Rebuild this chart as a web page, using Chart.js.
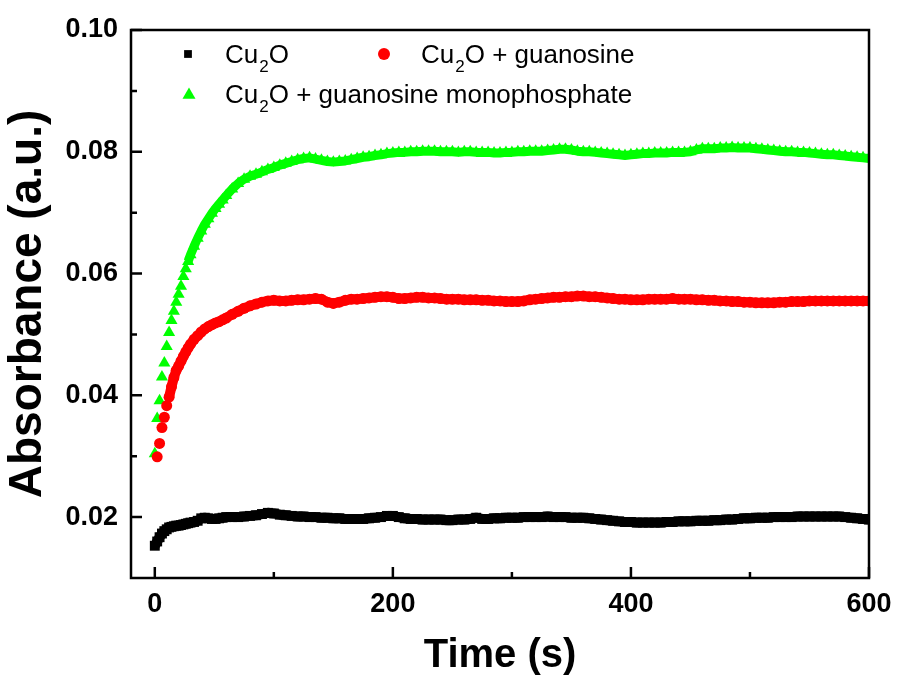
<!DOCTYPE html>
<html>
<head>
<meta charset="utf-8">
<script src="https://cdn.jsdelivr.net/npm/chart.js@4.4.1/dist/chart.umd.min.js"></script>
<style>
  html, body { margin: 0; padding: 0; background: #fff; }
  #wrap { width: 898px; height: 680px; }
</style>
</head>
<body>
<div id="wrap"><canvas id="c" width="898" height="680"></canvas></div>
<script>
// ---------------- data ----------------
const seriesLabels = ['Cu₂O', 'Cu₂O + guanosine', 'Cu₂O + guanosine monophosphate'];
const xTitle = 'Time (s)';
const yTitle = 'Absorbance (a.u.)';
const xTickValues = [0, 200, 400, 600];
const xMinorTicks = [100, 300, 500];
const yTickValues = [0.02, 0.04, 0.06, 0.08, 0.10];
const yMinorTicks = [0.03, 0.05, 0.07, 0.09];

const time = [
  0, 2, 4, 6, 8, 10, 12, 14, 16, 18,
  20, 22, 24, 26, 28, 30, 33, 36, 39, 42,
  45, 48, 51, 54, 57, 60, 65, 70, 75, 80,
  85, 90, 95, 100, 105, 110, 115, 120, 125, 130,
  135, 140, 145, 150, 155, 160, 165, 170, 175, 180,
  185, 190, 195, 200, 205, 210, 215, 220, 225, 230,
  235, 240, 245, 250, 255, 260, 265, 270, 275, 280,
  285, 290, 295, 300, 305, 310, 315, 320, 325, 330,
  335, 340, 345, 350, 355, 360, 365, 370, 375, 380,
  385, 390, 395, 400, 405, 410, 415, 420, 425, 430,
  435, 440, 445, 450, 455, 460, 465, 470, 475, 480,
  485, 490, 495, 500, 505, 510, 515, 520, 525, 530,
  535, 540, 545, 550, 555, 560, 565, 570, 575, 580,
  585, 590, 595, 600
];

const cu2o = [
  .0153, .0160, .0167, .0173, .0177, .0180, .0183, .0184, .0185, .0186,
  .0186, .0187, .0188, .0189, .0190, .0191, .0192, .0194, .0198, .0199,
  .0198, .0197, .0197, .0198, .0199, .0200, .0200, .0200, .0201, .0202,
  .0203, .0205, .0207, .0206, .0204, .0203, .0202, .0201, .0201, .0200,
  .0200, .0199, .0199, .0198, .0198, .0197, .0197, .0197, .0197, .0198,
  .0199, .0200, .0202, .0202, .0200, .0198, .0197, .0197, .0196, .0196,
  .0196, .0196, .0195, .0195, .0196, .0196, .0197, .0199, .0197, .0197,
  .0198, .0198, .0199, .0199, .0199, .0200, .0200, .0200, .0200, .0201,
  .0200, .0200, .0200, .0199, .0199, .0199, .0198, .0197, .0196, .0195,
  .0194, .0193, .0192, .0192, .0191, .0191, .0191, .0191, .0191, .0192,
  .0192, .0193, .0193, .0193, .0194, .0194, .0194, .0195, .0195, .0196,
  .0196, .0197, .0198, .0198, .0199, .0199, .0199, .0200, .0200, .0200,
  .0200, .0201, .0201, .0201, .0201, .0201, .0201, .0201, .0201, .0200,
  .0199, .0198, .0197, .0196
];

const cu2oGuanosine = [
  null, .0299, .0321, .0347, .0364, .0383, .0397, .0414, .0429, .0441,
  .0448, .0456, .0464, .0471, .0478, .0484, .0492, .0498, .0504, .0509,
  .0513, .0516, .0519, .0521, .0524, .0527, .0533, .0538, .0543, .0547,
  .0550, .0553, .0555, .0556, .0555, .0555, .0556, .0557, .0557, .0558,
  .0559, .0558, .0553, .0551, .0553, .0556, .0558, .0558, .0559, .0560,
  .0561, .0562, .0562, .0561, .0559, .0559, .0560, .0561, .0561, .0560,
  .0560, .0559, .0558, .0558, .0558, .0557, .0557, .0557, .0556, .0556,
  .0555, .0555, .0554, .0554, .0554, .0555, .0557, .0558, .0559, .0560,
  .0561, .0561, .0562, .0562, .0563, .0563, .0562, .0562, .0561, .0560,
  .0559, .0558, .0558, .0557, .0557, .0557, .0558, .0558, .0558, .0558,
  .0559, .0558, .0558, .0558, .0557, .0557, .0556, .0556, .0555, .0555,
  .0554, .0554, .0553, .0553, .0552, .0552, .0552, .0552, .0553, .0553,
  .0554, .0554, .0554, .0555, .0555, .0555, .0555, .0555, .0555, .0555,
  .0555, .0555, .0555, .0555
];

const cu2oGMP = [
  .0304, .0362, .0391, .0430, .0453, .0480, .0503, .0523, .0538, .0553,
  .0566, .0579, .0595, .0608, .0620, .0631, .0645, .0658, .0670, .0681,
  .0690, .0699, .0707, .0714, .0721, .0728, .0739, .0748, .0755, .0760,
  .0763, .0767, .0771, .0774, .0778, .0781, .0784, .0787, .0789, .0790,
  .0788, .0786, .0784, .0783, .0784, .0785, .0787, .0789, .0791, .0792,
  .0794, .0795, .0797, .0798, .0799, .0799, .0800, .0800, .0801, .0801,
  .0801, .0800, .0800, .0800, .0799, .0800, .0800, .0799, .0799, .0799,
  .0798, .0798, .0799, .0799, .0800, .0800, .0801, .0801, .0801, .0802,
  .0803, .0804, .0804, .0803, .0801, .0800, .0800, .0799, .0798, .0797,
  .0796, .0795, .0794, .0795, .0796, .0797, .0797, .0798, .0798, .0798,
  .0799, .0799, .0799, .0800, .0803, .0805, .0805, .0805, .0806, .0806,
  .0807, .0806, .0806, .0806, .0805, .0804, .0803, .0802, .0801, .0800,
  .0800, .0799, .0799, .0798, .0797, .0796, .0795, .0795, .0794, .0793,
  .0792, .0791, .0790, .0789
];

const seriesColors = ['#000000', '#ff0000', '#00ff00'];
const seriesStyles = ['rect', 'circle', 'triangle'];

// ---------------- helpers ----------------
const FONT = "'Liberation Sans', Arial, Helvetica, sans-serif";
Chart.defaults.font.family = FONT;
Chart.defaults.color = '#000';

function toPoints(vals) {
  const out = [];
  for (let i = 0; i < time.length; i++) {
    if (vals[i] !== null && vals[i] !== undefined) out.push({ x: time[i], y: vals[i] });
  }
  return out;
}

function drawMarker(ctx, style, color, x, y, r) {
  ctx.fillStyle = color;
  ctx.beginPath();
  if (style === 'rect') {
    const s = r * Math.SQRT1_2;
    ctx.rect(x - s, y - s, 2 * s, 2 * s);
  } else if (style === 'circle') {
    ctx.arc(x, y, r, 0, Math.PI * 2);
  } else {
    const h = r * Math.sqrt(3) / 2;
    ctx.moveTo(x, y - r);
    ctx.lineTo(x + h, y + r / 2);
    ctx.lineTo(x - h, y + r / 2);
    ctx.closePath();
  }
  ctx.fill();
}

const SUBS = '₀₁₂₃₄₅₆₇₈₉';
function drawRichText(ctx, text, x, baseline, size) {
  let cx = x;
  let buf = '';
  const flush = () => {
    if (!buf) return;
    ctx.font = size + 'px ' + FONT;
    ctx.fillText(buf, cx, baseline);
    cx += ctx.measureText(buf).width;
    buf = '';
  };
  for (const ch of text) {
    const k = SUBS.indexOf(ch);
    if (k >= 0) {
      flush();
      const sub = String(k);
      const ss = Math.round(size * 0.66);
      ctx.font = ss + 'px ' + FONT;
      ctx.fillText(sub, cx + 1, baseline + 9);
      cx += ctx.measureText(sub).width + 1;
    } else {
      buf += ch;
    }
  }
  flush();
}

const framePlugin = {
  id: 'frameTicksLegend',
  afterDraw(chart) {
    const { ctx, chartArea: a, scales: { x, y } } = chart;
    ctx.save();
    ctx.strokeStyle = '#000';
    ctx.lineWidth = 2.5;
    ctx.lineCap = 'butt';
    ctx.strokeRect(a.left, a.top, a.right - a.left, a.bottom - a.top);
    ctx.beginPath();
    xTickValues.forEach(v => { const p = x.getPixelForValue(v); ctx.moveTo(p, a.bottom); ctx.lineTo(p, a.bottom - 11); });
    xMinorTicks.forEach(v => { const p = x.getPixelForValue(v); ctx.moveTo(p, a.bottom); ctx.lineTo(p, a.bottom - 6); });
    yTickValues.forEach(v => { const p = y.getPixelForValue(v); ctx.moveTo(a.left, p); ctx.lineTo(a.left + 11, p); });
    yMinorTicks.forEach(v => { const p = y.getPixelForValue(v); ctx.moveTo(a.left, p); ctx.lineTo(a.left + 6, p); });
    ctx.stroke();

    // legend inside the plot area
    const items = [
      { i: 0, mx: 57, tx: 94, row: 0, r: 5.5 },
      { i: 1, mx: 253, tx: 290, row: 0, r: 6 },
      { i: 2, mx: 58, tx: 94, row: 1, r: 7.5 }
    ];
    ctx.textAlign = 'left';
    ctx.textBaseline = 'alphabetic';
    items.forEach(it => {
      const cy = a.top + 24 + it.row * 40;
      drawMarker(ctx, seriesStyles[it.i], seriesColors[it.i], a.left + it.mx, cy + (it.i === 2 ? 1 : 0), it.r);
      ctx.fillStyle = '#000';
      drawRichText(ctx, seriesLabels[it.i], a.left + it.tx, cy + 9, 26);
    });
    ctx.restore();
  }
};

const bandStart = [0, 12, 28];   // where the dense markers merge into a solid band
const bandWidth = [10, 10, 9];
const markerRadius = [7, 5.5, 7];

new Chart(document.getElementById('c'), {
  type: 'scatter',
  data: {
    datasets: [0, 1, 2].map(i => ({
      label: seriesLabels[i],
      data: toPoints([cu2o, cu2oGuanosine, cu2oGMP][i]),
      pointStyle: seriesStyles[i],
      pointRadius: markerRadius[i],
      pointHoverRadius: markerRadius[i],
      pointBackgroundColor: seriesColors[i],
      pointBorderColor: seriesColors[i],
      pointBorderWidth: 0,
      backgroundColor: seriesColors[i],
      borderColor: seriesColors[i],
      borderWidth: bandWidth[i],
      borderJoinStyle: 'round',
      tension: 0,
      showLine: true,
      segment: {
        borderColor: c => (c.p0.parsed.x < bandStart[i] ? 'rgba(0,0,0,0)' : seriesColors[i])
      },
      clip: 0
    }))
  },
  options: {
    responsive: false,
    animation: false,
    devicePixelRatio: 1,
    layout: { padding: { top: 30, right: 29, left: 0, bottom: 0 } },
    plugins: { legend: { display: false }, tooltip: { enabled: false } },
    scales: {
      x: {
        type: 'linear',
        min: -20,
        max: 600,
        afterBuildTicks: s => { s.ticks = xTickValues.map(v => ({ value: v })); },
        afterFit: s => { s.height = 102; s.paddingLeft = 0; s.paddingRight = 0; },
        grid: { display: false, drawTicks: false },
        border: { display: false },
        ticks: {
          font: { size: 27, weight: 'bold' },
          color: '#000',
          padding: 10,
          maxRotation: 0,
          callback: v => String(v)
        },
        title: {
          display: true,
          text: xTitle,
          font: { size: 40, weight: 'bold' },
          color: '#000',
          padding: { top: 0, bottom: 0 }
        }
      },
      y: {
        type: 'linear',
        min: 0.01,
        max: 0.10,
        afterBuildTicks: s => { s.ticks = yTickValues.map(v => ({ value: v })); },
        afterFit: s => { s.width = 131; s.paddingTop = 0; s.paddingBottom = 0; },
        grid: { display: false, drawTicks: false },
        border: { display: false },
        ticks: {
          font: { size: 27, weight: 'bold' },
          color: '#000',
          padding: 13,
          callback: v => Number(v).toFixed(2)
        },
        title: {
          display: true,
          text: yTitle,
          font: { size: 46, weight: 'bold' },
          color: '#000',
          padding: { top: 1, bottom: 0 }
        }
      }
    }
  },
  plugins: [framePlugin]
});
</script>
</body>
</html>
